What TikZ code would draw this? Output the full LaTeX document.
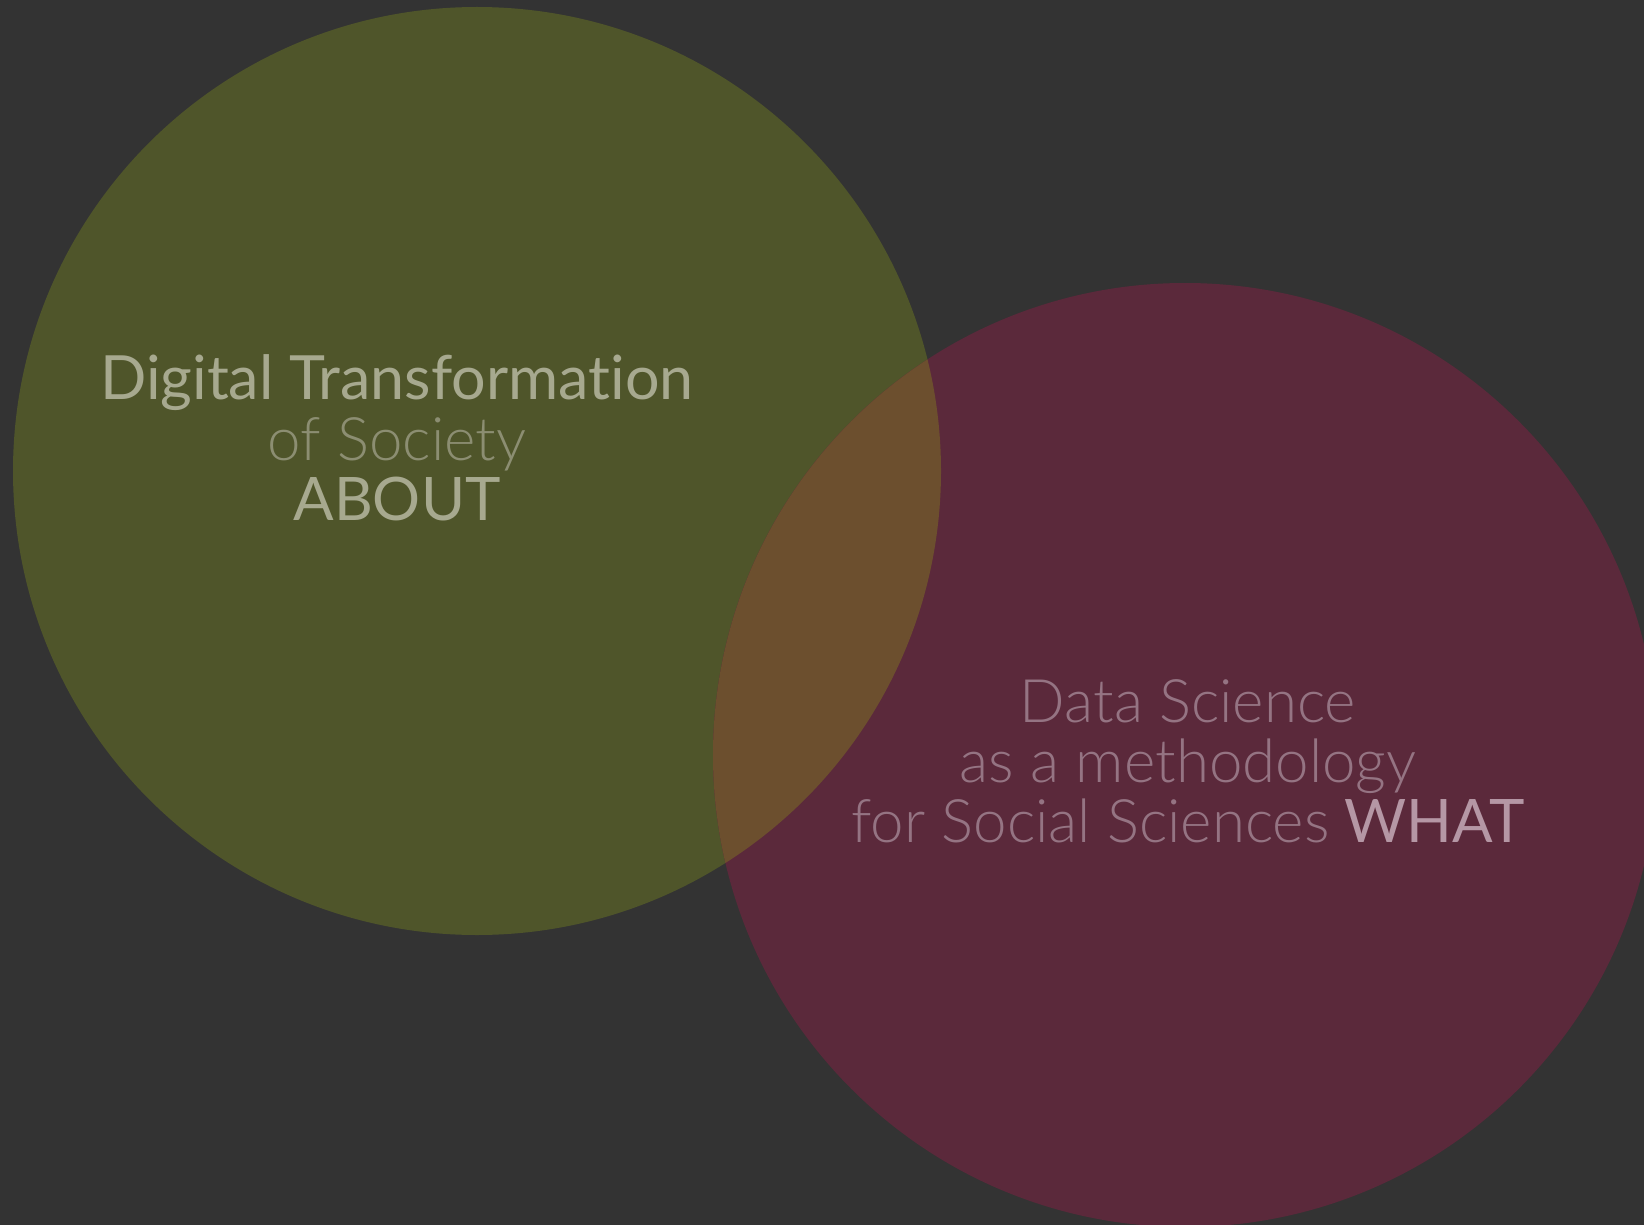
\documentclass[tikz,border=0pt]{standalone}
\usepackage{fontspec}
\setmainfont{Lato}[Ligatures={NoCommon,NoRare}]
\newfontfamily\lightfont{Lato Light}[Ligatures={NoCommon,NoRare}]
\definecolor{bgc}{HTML}{333333}
\definecolor{olive}{HTML}{4F552A}
\definecolor{maroon}{HTML}{5B293B}
\definecolor{mix}{HTML}{6C4F2E}
\definecolor{ltext}{HTML}{A7A98F}
\definecolor{ltextdim}{HTML}{8C8E72}
\definecolor{rtext}{HTML}{957483}
\definecolor{rtextbright}{HTML}{B597A5}
\tikzset{
  lbl/.style={anchor=base, inner sep=0pt, font=\fontsize{30}{30}\selectfont},
}
\begin{document}
\begin{tikzpicture}[x=1pt,y=1pt]
\useasboundingbox (0,0) rectangle (822,-612.5);
\fill[bgc] (0,0) rectangle (822,-612.5);
\fill[olive] (238.5,-235.5) circle[radius=232];
\fill[maroon] (592.5,-377.5) circle[radius=236];
\begin{scope}
  \clip (238.5,-235.5) circle[radius=232];
  \fill[mix] (592.5,-377.5) circle[radius=236];
\end{scope}
\node[lbl, text=ltext, font=\fontsize{30.5}{30}\selectfont] (l1) at (198.5,-200) {Digital Transforma\kern0pt tion};
\node[lbl, text=ltextdim, font=\fontsize{30}{30}\lightfont] (l2) at (198.5,-230) {of Society};
\node[lbl, text=ltext] (l3) at (198.5,-260) {ABOUT};
\node[lbl, text=rtext, font=\fontsize{30}{30}\lightfont] (r1) at (594,-361) {Data Science};
\node[lbl, text=rtext, font=\fontsize{30}{30}\lightfont] (r2) at (594,-391) {as a methodology};
\node[lbl, text=rtext] (r3) at (594,-421) {{\lightfont for Social Sciences} \textcolor{rtextbright}{WHAT}};
\end{tikzpicture}
\end{document}
